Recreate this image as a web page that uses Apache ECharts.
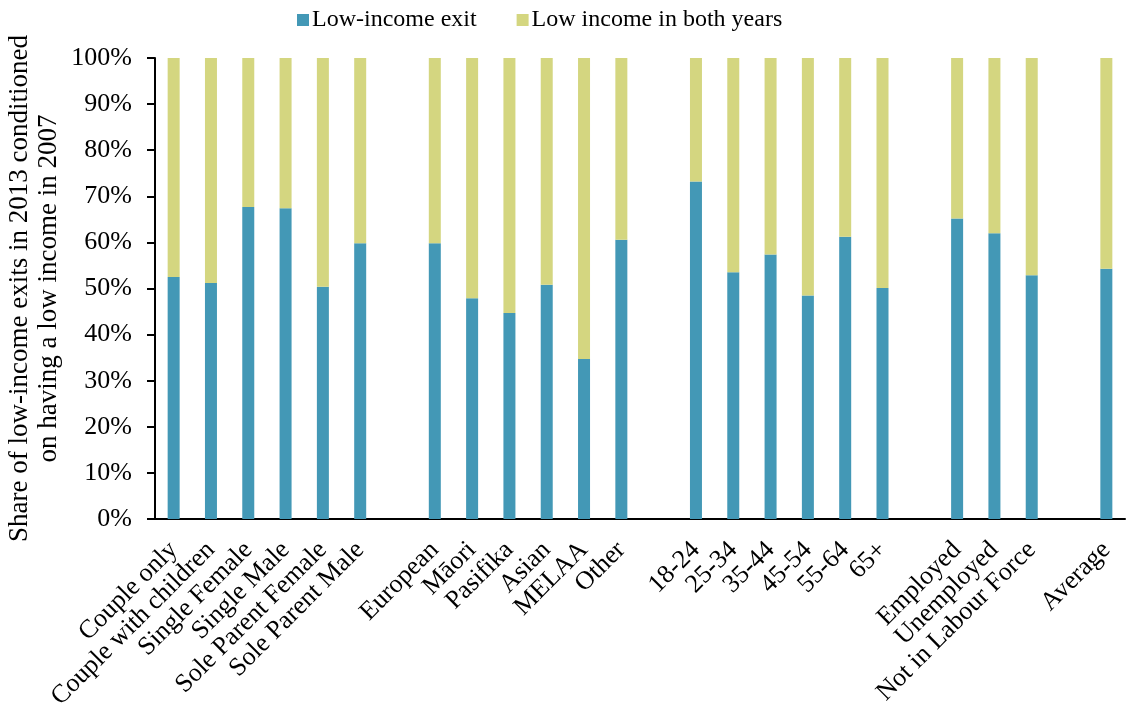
<!DOCTYPE html>
<html>
<head>
<meta charset="utf-8">
<script src="https://cdn.jsdelivr.net/npm/echarts@6/dist/echarts.min.js"></script>
<style>
  html, body { margin: 0; padding: 0; background: #ffffff; }
  #chart { width: 1128px; height: 711px; }
</style>
</head>
<body>
<div id="chart"></div>
<script>
// Groups are separated by blank spacer categories (distinct whitespace names).
const categories = [
  'Couple only', 'Couple with children', 'Single Female', 'Single Male', 'Sole Parent Female', 'Sole Parent Male',
  ' ',
  'European', 'Māori', 'Pasifika', 'Asian', 'MELAA', 'Other',
  '  ',
  '18-24', '25-34', '35-44', '45-54', '55-64', '65+',
  '   ',
  'Employed', 'Unemployed', 'Not in Labour Force',
  '    ',
  'Average'
];

// Share (%) exiting low income by 2013
const lowIncomeExit = [
  52.5, 51.2, 67.7, 67.4, 50.4, 59.8,
  null,
  59.8, 47.9, 44.7, 50.8, 34.7, 60.6,
  null,
  73.2, 53.5, 57.4, 48.5, 61.2, 50.1,
  null,
  65.2, 62.0, 52.9,
  null,
  54.3
];

// Share (%) with low income in both 2007 and 2013
const lowIncomeBothYears = [
  47.5, 48.8, 32.3, 32.6, 49.6, 40.2,
  null,
  40.2, 52.1, 55.3, 49.2, 65.3, 39.4,
  null,
  26.8, 46.5, 42.6, 51.5, 38.8, 49.9,
  null,
  34.8, 38.0, 47.1,
  null,
  45.7
];

const yTicks = [0, 10, 20, 30, 40, 50, 60, 70, 80, 90, 100];

const FONT = '"Liberation Serif", "Times New Roman", serif';
const BLUE = '#4398b6';
const YELLOW = '#d4d680';

const chart = echarts.init(document.getElementById('chart'), null, { renderer: 'canvas' });

chart.setOption({
  animation: false,
  backgroundColor: '#ffffff',
  textStyle: { fontFamily: FONT, color: '#000' },
  legend: {
    top: 3,
    left: 292,
    itemWidth: 12,
    itemHeight: 12,
    itemGap: 40,
    icon: 'rect',
    textStyle: { fontFamily: FONT, fontSize: 24, color: '#000', padding: [0, 0, 0, -2] },
    data: ['Low-income exit', 'Low income in both years']
  },
  grid: {
    left: 155,
    right: 3,
    top: 58,
    bottom: 192,
    containLabel: false,
    outerBoundsMode: 'none'
  },
  xAxis: {
    type: 'category',
    data: categories,
    axisLine: { show: true, lineStyle: { color: '#000', width: 2 } },
    axisTick: { show: false },
    axisLabel: {
      interval: 0,
      rotate: 45,
      margin: 27,
      fontFamily: FONT,
      fontSize: 26,
      color: '#000'
    }
  },
  yAxis: {
    type: 'value',
    min: yTicks[0],
    max: yTicks[yTicks.length - 1],
    interval: 10,
    name: 'Share of low-income exits in 2013 conditioned\non having a low income in 2007',
    nameLocation: 'middle',
    nameGap: 92,
    nameMoveOverlap: false,
    nameTextStyle: { fontFamily: FONT, fontSize: 27, color: '#000', lineHeight: 29 },
    axisLine: { show: true, lineStyle: { color: '#000', width: 2 } },
    axisTick: { show: true, inside: false, length: 8, lineStyle: { color: '#000', width: 2 } },
    splitLine: { show: false },
    axisLabel: {
      margin: 23,
      fontFamily: FONT,
      fontSize: 26,
      color: '#000',
      formatter: v => v + '%'
    }
  },
  series: [
    {
      name: 'Low-income exit',
      type: 'bar',
      stack: 'share',
      barWidth: 12,
      itemStyle: { color: BLUE },
      data: lowIncomeExit
    },
    {
      name: 'Low income in both years',
      type: 'bar',
      stack: 'share',
      barWidth: 12,
      itemStyle: { color: YELLOW },
      data: lowIncomeBothYears
    }
  ]
});
</script>
</body>
</html>
